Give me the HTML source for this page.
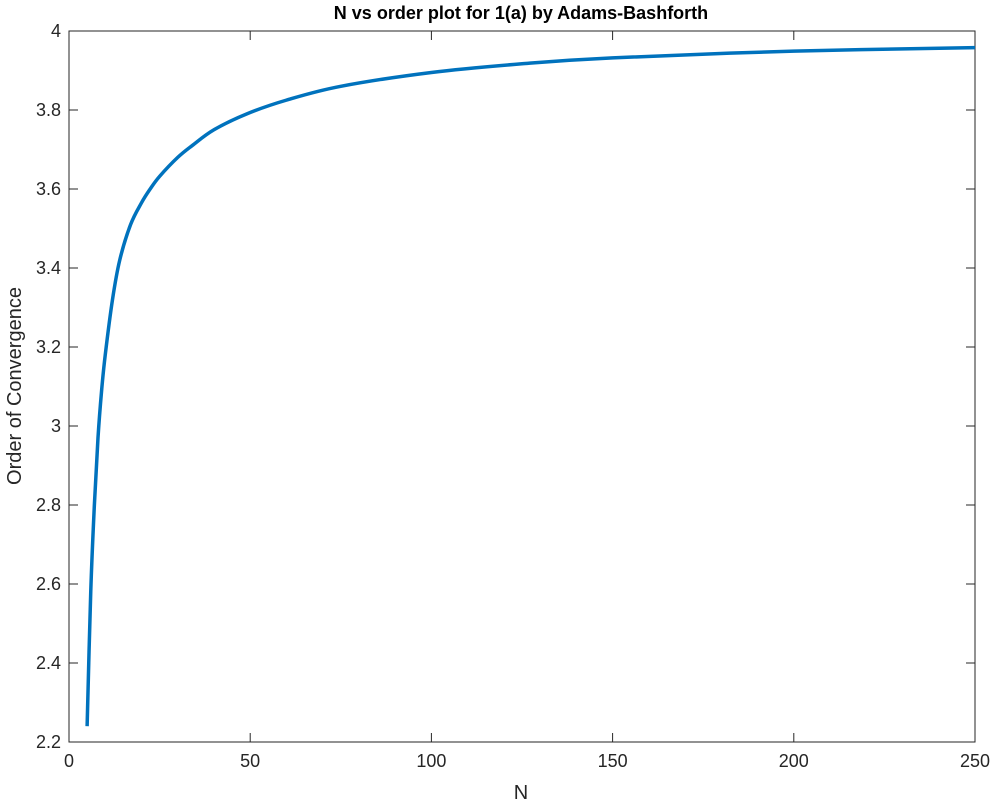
<!DOCTYPE html>
<html><head><meta charset="utf-8"><style>
body{margin:0;background:#fff;}
svg{display:block;font-family:"Liberation Sans",Arial,sans-serif;}
</style></head><body>
<svg id="chart" width="995" height="804">
<text x="521" y="19" text-anchor="middle" font-size="18" font-weight="bold" fill="#000">N vs order plot for 1(a) by Adams-Bashforth</text>
<text x="521" y="799" text-anchor="middle" font-size="20" fill="#262626">N</text>
<text transform="translate(21,386) rotate(-90)" text-anchor="middle" font-size="20" fill="#262626">Order of Convergence</text>
<g id="axes"></g>
</svg>
<script>
const xTicks=[0,50,100,150,200,250];
const yTicks=[2.2,2.4,2.6,2.8,3,3.2,3.4,3.6,3.8,4];
const nValues=[5,6,7,8,9,10,12,14,17,20,22.4,25,30,34,40,49,60,75,100,125,150,200,250];
const orderValues=[2.24,2.58,2.8,2.97,3.09,3.18,3.32,3.42,3.51,3.565,3.6,3.632,3.68,3.71,3.75,3.79,3.825,3.86,3.895,3.917,3.932,3.949,3.958];
const L=69,R=975,T=31,B=742;
const xs=v=>L+(v-0)/(250-0)*(R-L);
const ys=v=>B-(v-2.2)/(4-2.2)*(B-T);
const NS='http://www.w3.org/2000/svg';
const g=document.getElementById('axes');
function mk(t,a){const e=document.createElementNS(NS,t);for(const k in a)e.setAttribute(k,a[k]);g.appendChild(e);return e;}
const box=mk('rect',{x:L,y:T,width:R-L,height:B-T,fill:'none',stroke:'#262626','stroke-width':1});


xTicks.forEach(v=>{const x=xs(v);
mk('line',{x1:x,x2:x,y1:B,y2:B-9,stroke:'#262626'});
mk('line',{x1:x,x2:x,y1:T,y2:T+9,stroke:'#262626'});
const t=mk('text',{x:x,y:B+25,'text-anchor':'middle','font-size':18,fill:'#262626'});t.textContent=v;

});
yTicks.forEach(v=>{const y=ys(v);
mk('line',{x1:L,x2:L+9,y1:y,y2:y,stroke:'#262626'});
mk('line',{x1:R,x2:R-9,y1:y,y2:y,stroke:'#262626'});
const t=mk('text',{x:L-8,y:y+6,'text-anchor':'end','font-size':18,fill:'#262626'});t.textContent=v;

});
const P=nValues.map((n,i)=>[xs(n),ys(orderValues[i])]);
let d='M'+P[0][0]+','+P[0][1];
for(let i=0;i<P.length-1;i++){const p0=P[Math.max(0,i-1)],p1=P[i],p2=P[i+1],p3=P[Math.min(P.length-1,i+2)];
const c1=[p1[0]+(p2[0]-p0[0])/6,p1[1]+(p2[1]-p0[1])/6],c2=[p2[0]-(p3[0]-p1[0])/6,p2[1]-(p3[1]-p1[1])/6];
d+=`C${c1[0]},${c1[1]} ${c2[0]},${c2[1]} ${p2[0]},${p2[1]}`;}
const line=mk('path',{d:d,fill:'none',stroke:'#0072BD','stroke-width':3.5});


</script>
</body></html>
